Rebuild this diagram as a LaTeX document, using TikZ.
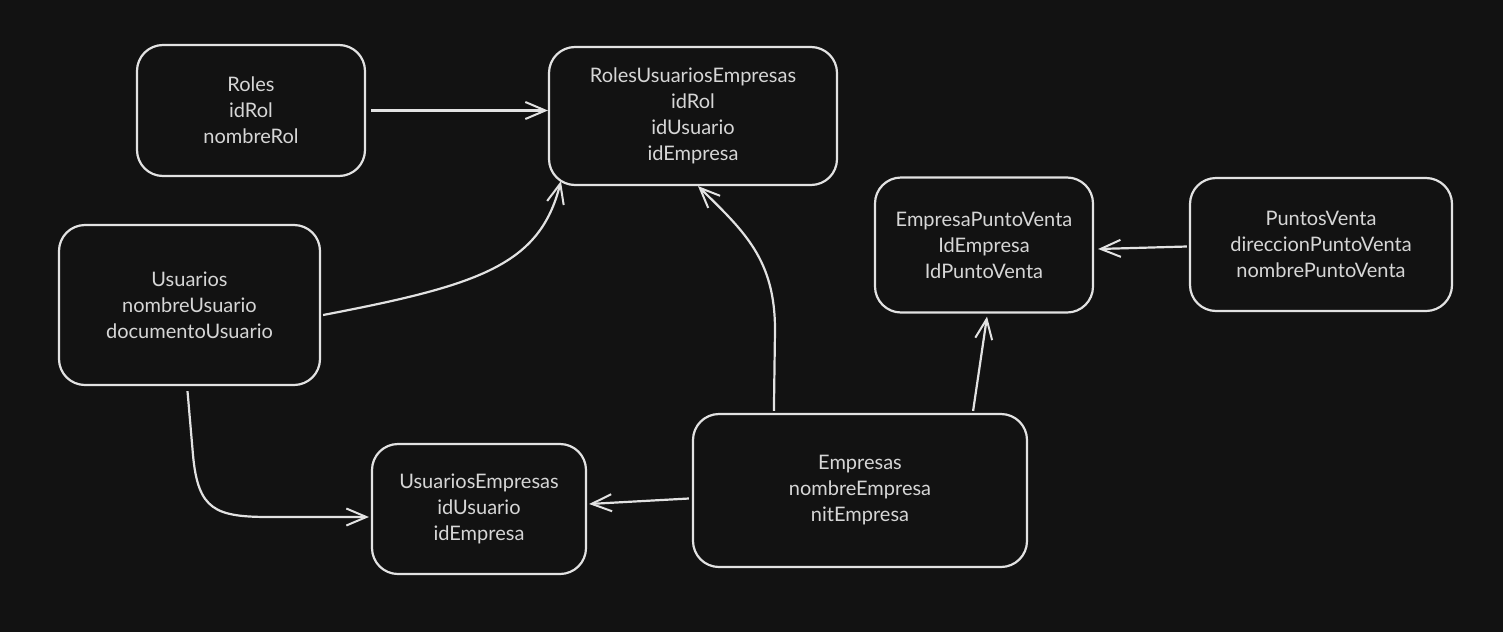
\documentclass[tikz,border=0pt]{standalone}
\usepackage{fontspec}
\setmainfont{Lato}
\usepackage{tikz}
\usetikzlibrary{arrows.meta,calc}
\definecolor{fondo}{RGB}{18,18,18}
\definecolor{trazo}{RGB}{226,226,226}
\definecolor{letra}{RGB}{214,214,214}
\tikzstyle{tabla}=[draw=trazo, line width=2.2pt, rounded corners=26pt, fill=fondo, text=letra, align=center, font=\fontsize{20}{26}\selectfont]
\tikzstyle{rel}=[draw=trazo, line width=2.2pt, -{Straight Barb[length=20pt,width=17pt,line width=2pt]}]

\begin{document}
\begin{tikzpicture}[x=1pt,y=-1pt]
	\fill[fondo] (0,0) rectangle (1503,632);
	\node[tabla, minimum width=228pt, minimum height=131pt] (roles) at (251,110.5) {Roles\\idRol\\nombreRol};
	\node[tabla, minimum width=288pt, minimum height=138pt] (rue) at (693,116) {RolesUsuariosEmpresas\\idRol\\idUsuario\\idEmpresa};
	\node[tabla, minimum width=218pt, minimum height=135pt] (epv) at (984,245) {EmpresaPuntoVenta\\IdEmpresa\\IdPuntoVenta};
	\node[tabla, minimum width=262pt, minimum height=133pt] (pv) at (1321,244.5) {PuntosVenta\\direccionPuntoVenta\\nombrePuntoVenta};
	\node[tabla, minimum width=261pt, minimum height=160pt] (usuarios) at (189.5,305) {Usuarios\\nombreUsuario\\documentoUsuario};
	\node[tabla, minimum width=214pt, minimum height=130pt] (ue) at (479,509) {UsuariosEmpresas\\idUsuario\\idEmpresa};
	\node[tabla, minimum width=334pt, minimum height=153pt] (emp) at (860,490.5) {Empresas\\nombreEmpresa\\nitEmpresa};
	\draw[rel] ([xshift=5pt]roles.east) -- (roles.east -| rue.west);
	\draw[rel] ($(usuarios.east)+(2,10)$) .. controls (480,285) and (540,265) .. ($(rue.south west)+(13,-5)$);
	\draw[rel] ($(usuarios.south)+(-2,5)$) -- (193,455) .. controls (198,510) and (215,517) .. (270,517) -- ($(ue.west)+(-2,8)$);
	\draw[rel] ($(emp.west)+(-3,8)$) -- ($(ue.east)+(2,-5)$);
	\draw[rel] ($(emp.north west)+(82,-2)$) -- (775,330) .. controls (775,260) and (745,232) .. ($(rue.south)+(5,0)$);
	\draw[rel] ($(emp.north east)+(-55,-2)$) -- ($(epv.south)+(3,3)$);
	\draw[rel] ($(pv.west)+(-2,2)$) -- ($(epv.east)+(4,4)$);
\end{tikzpicture}
\end{document}
